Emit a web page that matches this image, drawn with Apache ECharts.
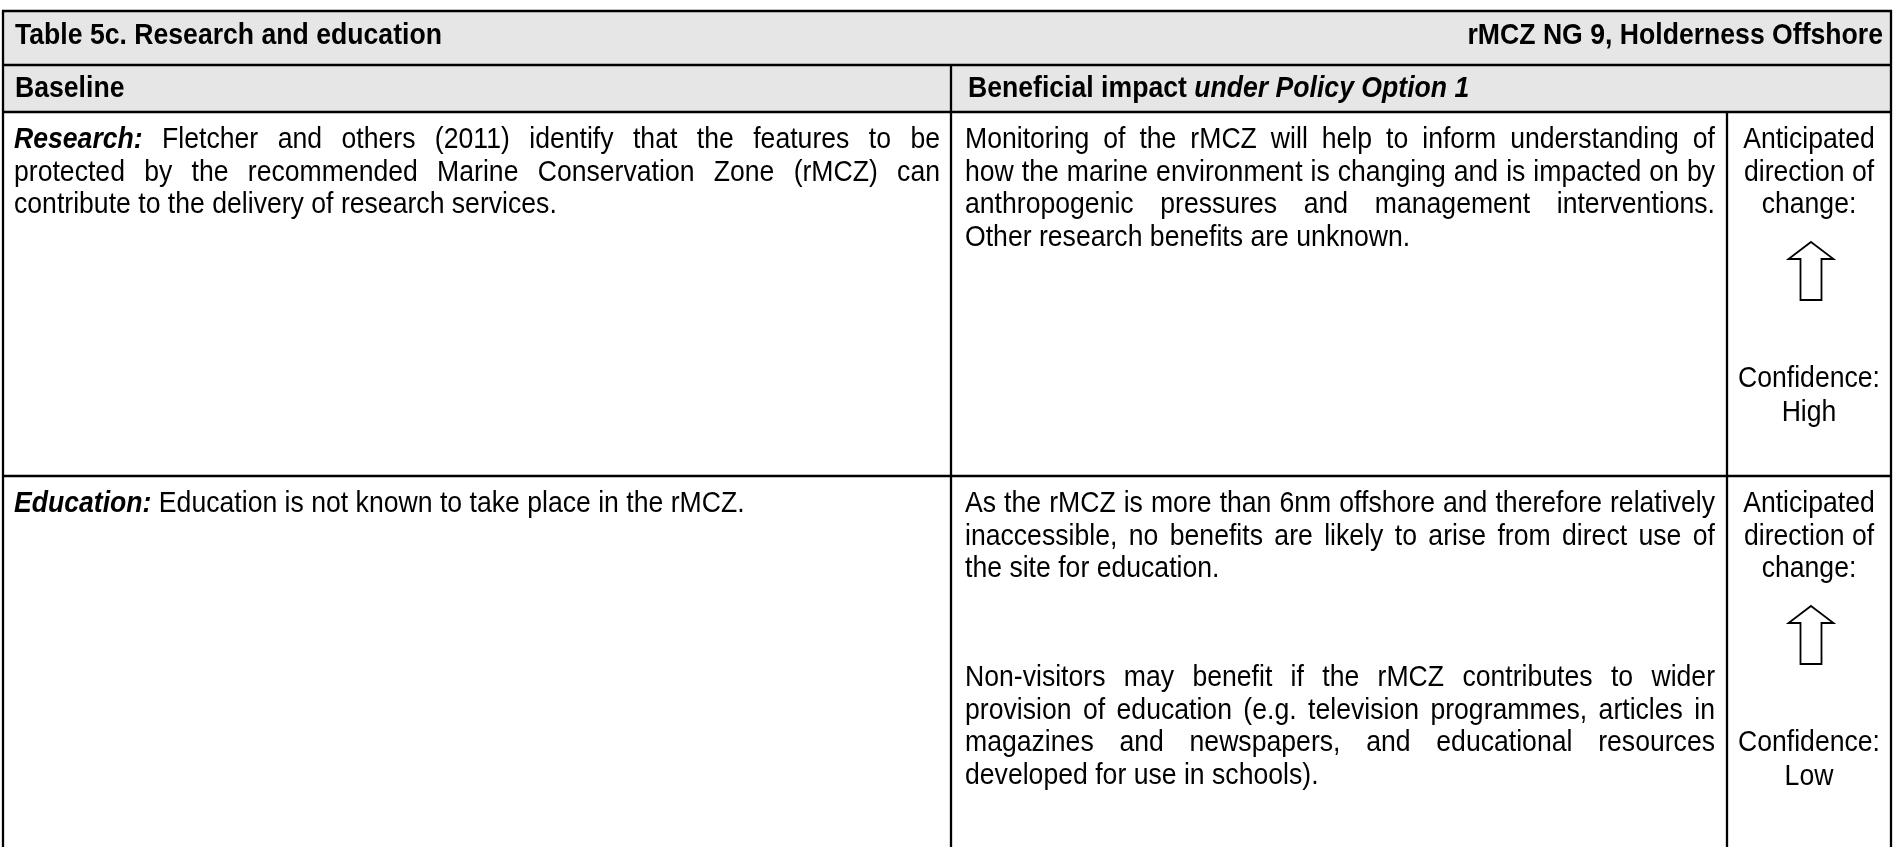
<!DOCTYPE html>
<html>
<head>
<meta charset="utf-8">
<script src="https://cdn.jsdelivr.net/npm/echarts@6/dist/echarts.min.js"></script>
<style>html,body{margin:0;padding:0;background:#fff;}#c{width:1894px;height:847px;}</style>
</head>
<body>
<div id="c"></div>
<script>
// ---- content ----
const titleLeft = 'Table 5c. Research and education';
const titleRight = 'rMCZ NG 9, Holderness Offshore';
const headerBaseline = 'Baseline';
const headerImpact = 'Beneficial impact';
const headerImpactItalic = 'under Policy Option 1';
const rowLabels = ['Research:', 'Education:'];
const baselineText = [
  ['Fletcher and others (2011) identify that the features to be',
   'protected by the recommended Marine Conservation Zone (rMCZ) can',
   'contribute to the delivery of research services.'],
  ['Education is not known to take place in the rMCZ.']
];
const impactText = [
  [[ 'Monitoring of the rMCZ will help to inform understanding of',
     'how the marine environment is changing and is impacted on by',
     'anthropogenic pressures and management interventions.',
     'Other research benefits are unknown.' ]],
  [[ 'As the rMCZ is more than 6nm offshore and therefore relatively',
     'inaccessible, no benefits are likely to arise from direct use of',
     'the site for education.' ],
   [ 'Non-visitors may benefit if the rMCZ contributes to wider',
     'provision of education (e.g. television programmes, articles in',
     'magazines and newspapers, and educational resources',
     'developed for use in schools).' ]]
];
const directionLabel = ['Anticipated', 'direction of', 'change:'];
const directionOfChange = ['up', 'up'];
const confidenceLabel = 'Confidence:';
const confidenceLevels = ['High', 'Low'];

// ---- layout ----
const X0 = 3, X1 = 951, X2 = 1727, X3 = 1891;
const Y0 = 11, Y1 = 65, Y2 = 112, Y3 = 476, YB = 847;
const rowTops = [Y2, Y3];
const P = 32.5;          // line pitch
const FIRST = 28;        // first line offset from row top
const PARA2 = 5.35;      // second paragraph start (in lines)
const SANS = "'Liberation Sans',Arial,sans-serif";
const BODY = {family: SANS, size: 30, sx: 0.887};
const RIGHT = {family: SANS, size: 30, sx: 0.887};
const HEAD = {family: SANS, size: 30, sx: 0.887, bold: true};
const GRAY = '#e6e6e6';

const mc = document.createElement('canvas').getContext('2d');
function fstr(f){ return (f.italic?'italic ':'') + (f.bold?'bold ':'') + f.size + 'px ' + f.family; }
function meas(t, f){ mc.font = fstr(f); return mc.measureText(t).width * (f.sx || 1); }
function txt(t, x, y, f, align){
  return {type:'text', x:x, y:y, scaleX:f.sx||1, scaleY:1, silent:true,
    style:{text:t, x:0, y:0, font:fstr(f), fill:'#000', textAlign:align||'left', align:align||'left',
           textVerticalAlign:'middle', verticalAlign:'middle'}};
}
function lineEls(tokens, x, width, y, justify){
  const ws = tokens.map(k => meas(k.t, k.f));
  const sum = ws.reduce((a,b)=>a+b,0);
  const sp = meas(' ', BODY);
  const gap = (justify && tokens.length>1) ? (width - sum)/(tokens.length-1) : sp;
  const out = []; let cx = x;
  tokens.forEach((k,i)=>{ out.push(txt(k.t, cx, y, k.f)); cx += ws[i] + gap; });
  return out;
}
function toks(line, f){ return line.split(' ').map(w=>({t:w, f:f})); }
function para(lines, x, width, y0, label){
  let els = [];
  lines.forEach((ln,i)=>{
    let tk = toks(ln, BODY);
    if (i===0 && label) tk = [{t:label, f:Object.assign({}, BODY, {bold:true, italic:true})}].concat(tk);
    els = els.concat(lineEls(tk, x, width, y0 + i*P, i < lines.length-1));
  });
  return els;
}
function arrow(cx, top, dir){
  const hw = 22.5, sw = 10.5, hh = 17, H = 58;
  const pts = [[cx, top],[cx+hw, top+hh],[cx+sw, top+hh],[cx+sw, top+H],[cx-sw, top+H],[cx-sw, top+hh],[cx-hw, top+hh]];
  return {type:'polygon', silent:true, shape:{points:pts}, style:{fill:'#fff', stroke:'#000', lineWidth:1.8, lineJoin:'miter'}};
}
function hline(x1,x2,y,w){ return {type:'line', silent:true, shape:{x1:x1,y1:y,x2:x2,y2:y}, style:{stroke:'#000', lineWidth:w||2.5}}; }
function vline(x,y1,y2,w){ return {type:'line', silent:true, shape:{x1:x,y1:y1,x2:x,y2:y2}, style:{stroke:'#000', lineWidth:w||2.3}}; }

let g = [];
g.push({type:'rect', silent:true, shape:{x:X0, y:Y0, width:X3-X0, height:Y2-Y0}, style:{fill:GRAY}});
g.push(txt(titleLeft, 15, 36, HEAD));
g.push(txt(titleRight, X3-8, 36, HEAD, 'right'));
g.push(txt(headerBaseline, 15, (Y1+Y2)/2 + 0.5, HEAD));
const hiW = meas(headerImpact + ' ', HEAD);
g.push(txt(headerImpact, X1+17, (Y1+Y2)/2 + 0.5, HEAD));
g.push(txt(headerImpactItalic, X1+17+hiW, (Y1+Y2)/2 + 0.5, Object.assign({}, HEAD, {italic:true})));

const CX = (X2+X3)/2;
rowTops.forEach((top, r)=>{
  const y0 = top + FIRST;
  g = g.concat(para(baselineText[r], 14, X1-14-11, y0, rowLabels[r]));
  impactText[r].forEach((pl, pi)=>{
    g = g.concat(para(pl, X1+14, X2-X1-14-12, y0 + (pi===0?0:PARA2*P)));
  });
  directionLabel.forEach((t,i)=> g.push(txt(t, CX, y0 + i*P, RIGHT, 'center')));
  g.push(arrow(CX+2, y0 + 102, directionOfChange[r]));
  g.push(txt(confidenceLabel, CX, y0 + 7.35*P, RIGHT, 'center'));
  g.push(txt(confidenceLevels[r], CX, y0 + 8.4*P, RIGHT, 'center'));
});

// borders
g.push(hline(X0-1, X3+1, Y0));
g.push(hline(X0-1, X3+1, Y1));
g.push(hline(X0-1, X3+1, Y2));
g.push(hline(X0-1, X3+1, Y3));
g.push(vline(X0, Y0-1, YB));
g.push(vline(X3, Y0-1, YB));
g.push(vline(X1, Y1, YB));
g.push(vline(X2, Y2, YB));

const chart = echarts.init(document.getElementById('c'), null, {renderer:'canvas'});
chart.setOption({animation:false, backgroundColor:'#fff', graphic:{elements:g}});
</script>
</body>
</html>
